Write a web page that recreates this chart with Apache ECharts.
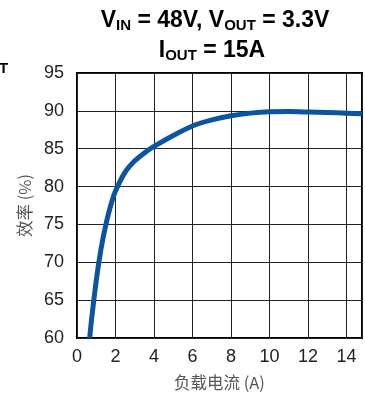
<!DOCTYPE html>
<html><head><meta charset="utf-8">
<script src="https://cdn.jsdelivr.net/npm/echarts@6/dist/echarts.min.js"></script>
<style>html,body{margin:0;padding:0;background:#fff}#c{width:365px;height:396px}</style>
</head><body><div id="c"></div>
<script>
const loadCurrent = [0.66, 0.75, 1.0, 1.25, 1.5, 1.75, 2.0, 2.5, 3.0, 3.5, 4, 5, 6, 7, 8, 9, 10, 11, 12, 13, 14, 14.8];
const efficiency  = [60, 62.3, 67.6, 71.8, 75.0, 77.5, 79.4, 81.9, 83.4, 84.45, 85.3, 86.75, 88.0, 88.8, 89.35, 89.7, 89.88, 89.9, 89.85, 89.78, 89.7, 89.62];
const xTicks = [0, 2, 4, 6, 8, 10, 12, 14];
const yTicks = [60, 65, 70, 75, 80, 85, 90, 95];
const xName = '负载电流 (A)';
const yName = '效率 (%)';

const F = '"Liberation Sans", Arial, sans-serif';
const CJK = '"Noto Sans CJK SC", "Liberation Sans", sans-serif';
const chart = echarts.init(document.getElementById('c'), null, {renderer:'canvas'});
const big = {fontFamily:F, fontWeight:'bold', fontSize:23, color:'#000'};
const sub = {fontFamily:F, fontWeight:'bold', fontSize:15, color:'#000', padding:[10,0,0,0]};
chart.setOption({
  animation:false,
  title:[{
    text:'{b|V}{s|IN}{b| = 48V, V}{s|OUT}{b| = 3.3V}',
    left:210, top:3, textAlign:'center',
    textStyle:{rich:{b:big, s:sub}}
  },{
    text:'{b|I}{s|OUT}{b| = 15A}',
    left:207, top:33, textAlign:'center',
    textStyle:{rich:{b:big, s:sub}}
  }],
  graphic:[{type:'text', left:-1, top:61, style:{text:'T', font:'bold 15px '+F, fill:'#000'}}],
  grid:{left:77, right:3, top:73, bottom:58, show:true, borderColor:'#000', borderWidth:2, containLabel:false},
  xAxis:{type:'value', min:0, max:14.8, interval:2,
    name:xName, nameLocation:'middle', nameGap:36,
    nameTextStyle:{fontFamily:CJK, fontSize:16.5, color:'#555'},
    axisLine:{show:false}, axisTick:{show:false},
    axisLabel:{fontFamily:F, fontSize:18, color:'#222', margin:10, showMaxLabel:false,
      formatter:v=> xTicks.includes(v) ? String(v) : ''},
    splitLine:{show:true, lineStyle:{color:'#222', width:1}}},
  yAxis:{type:'value', min:60, max:95, interval:5,
    name:yName, nameLocation:'middle', nameGap:37, nameRotate:90,
    nameTextStyle:{fontFamily:CJK, fontSize:16.5, color:'#555'},
    axisLine:{show:false}, axisTick:{show:false},
    axisLabel:{fontFamily:F, fontSize:18, color:'#222', margin:13,
      formatter:v=> yTicks.includes(v) ? String(v) : ''},
    splitLine:{show:true, lineStyle:{color:'#222', width:1}}},
  series:[{type:'line', smooth:0.3, symbol:'none', clip:true,
    data:loadCurrent.map((x,i)=>[x, efficiency[i]]),
    lineStyle:{color:'#0a55a2', width:5, cap:'butt', join:'round'}}]
});
</script></body></html>
